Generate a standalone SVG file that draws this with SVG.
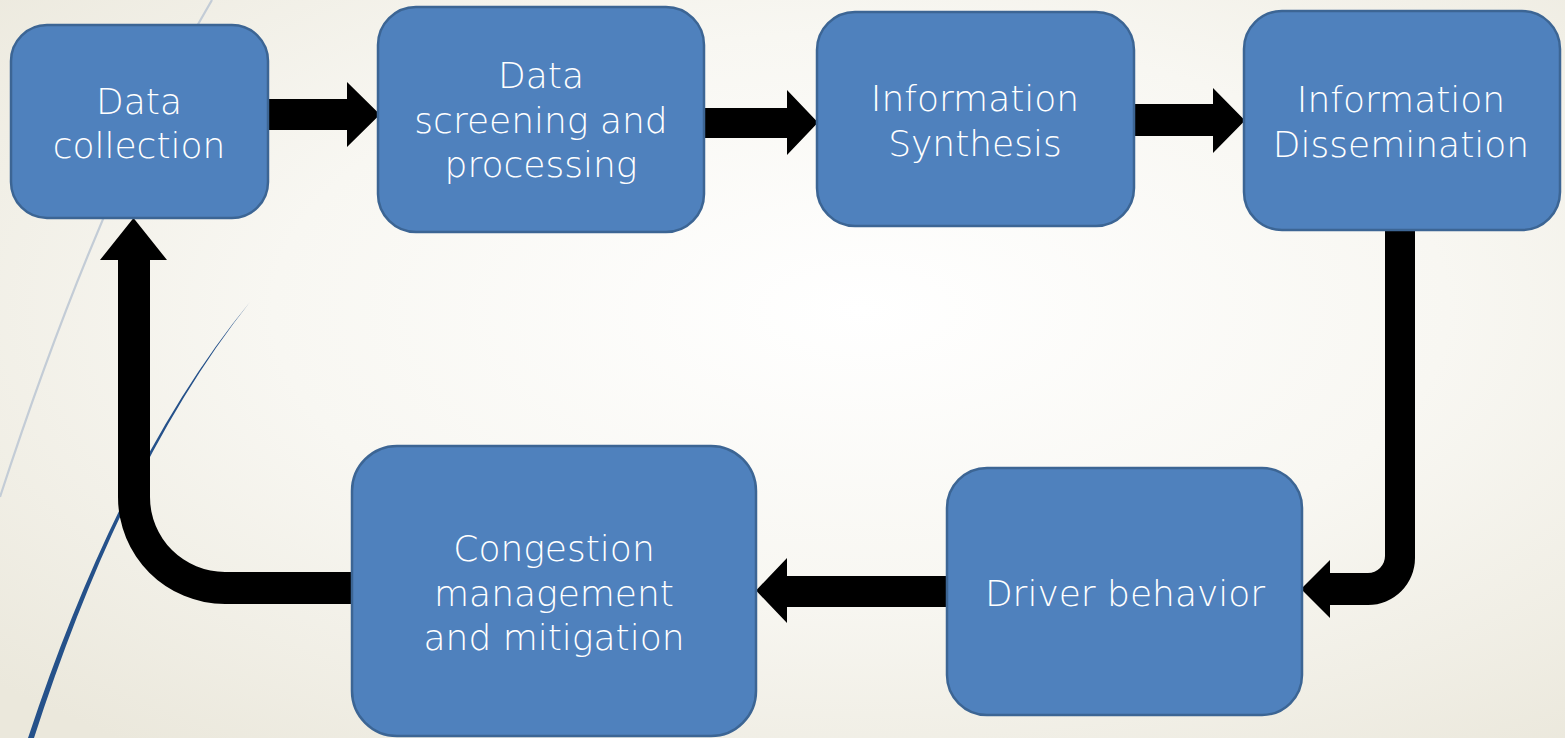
<svg xmlns="http://www.w3.org/2000/svg" width="1565" height="738" viewBox="0 0 1565 738">
  <defs>
    <radialGradient id="bg" cx="0.55" cy="0.42" r="0.75" fx="0.55" fy="0.42">
      <stop offset="0" stop-color="#FFFFFF"/>
      <stop offset="0.5" stop-color="#F8F7F2"/>
      <stop offset="1" stop-color="#EBE8DC"/>
    </radialGradient>
    <style>
      .box { fill: #4F81BD; stroke: #3C6594; stroke-width: 2.5; }
      .lbl { fill: #FFFFFF; font-family: "DejaVu Sans", "Liberation Sans", sans-serif; font-weight: 200; font-size: 36px; text-anchor: middle; }
      .arrow { fill: #000000; }
    </style>
  </defs>

  <!-- backdrop -->
  <rect x="0" y="0" width="1565" height="738" fill="url(#bg)"/>

  <!-- decorative swoosh lines -->
  <path d="M212,0 Q100,190 0,497" fill="none" stroke="#C3CCD6" stroke-width="2.2"/>
  <path d="M250,302 Q120,460 28,738 L34,738 Q123,462 250,302 Z" fill="#25518A"/>

  <!-- connectors -->
  <g id="connectors">
    <path class="arrow" d="M266,99 H347 V82 L380,114.5 L347,147 V130 H266 Z"/>
    <path class="arrow" d="M704,108 H787 V90 L818,122.5 L787,155 V138 H704 Z"/>
    <path class="arrow" d="M1132,104 H1213 V88 L1245,120.5 L1213,153 V136 H1132 Z"/>
    <path class="arrow" d="M1385,229 V556 A17,17 0 0 1 1368,573 H1330 V560 L1301,589 L1330,618 V605 H1368 A47,47 0 0 0 1415,558 V229 Z"/>
    <path class="arrow" d="M947,576 H787 V558 L756,590.5 L787,623 V607 H947 Z"/>
    <path class="arrow" d="M353,572 H225 A75,75 0 0 1 150,497 V260 H167 L133.5,218 L100,260 H118 V497 A107,107 0 0 0 225,604 H353 Z"/>
  </g>

  <!-- process steps -->
  <g id="data-collection">
    <rect class="box" x="11" y="25" width="257" height="193" rx="36"/>
    <text class="lbl" x="139" y="114">Data</text>
    <text class="lbl" x="139" y="158">collection</text>
  </g>
  <g id="data-screening">
    <rect class="box" x="378" y="7" width="326" height="225" rx="38"/>
    <text class="lbl" x="541" y="88">Data</text>
    <text class="lbl" x="541" y="133">screening and</text>
    <text class="lbl" x="541" y="177">processing</text>
  </g>
  <g id="information-synthesis">
    <rect class="box" x="817" y="12" width="317" height="214" rx="38"/>
    <text class="lbl" x="975" y="111">Information</text>
    <text class="lbl" x="975" y="156">Synthesis</text>
  </g>
  <g id="information-dissemination">
    <rect class="box" x="1244" y="11" width="316" height="219" rx="38"/>
    <text class="lbl" x="1401" y="112">Information</text>
    <text class="lbl" x="1401" y="157">Dissemination</text>
  </g>
  <g id="driver-behavior">
    <rect class="box" x="947" y="468" width="355" height="247" rx="40"/>
    <text class="lbl" x="1125" y="606">Driver behavior</text>
  </g>
  <g id="congestion-management">
    <rect class="box" x="352" y="446" width="404" height="290" rx="45"/>
    <text class="lbl" x="554" y="561">Congestion</text>
    <text class="lbl" x="554" y="606">management</text>
    <text class="lbl" x="554" y="650">and mitigation</text>
  </g>
</svg>
